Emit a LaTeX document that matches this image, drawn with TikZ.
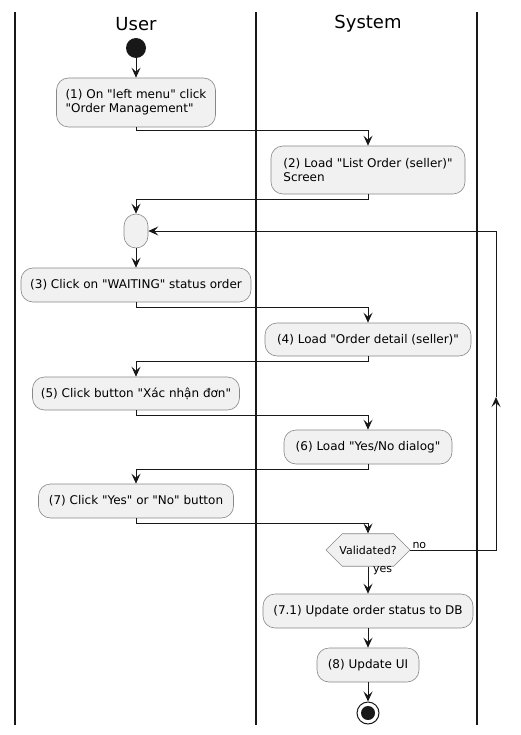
\documentclass[tikz,border=0pt]{standalone}
\usepackage{fontspec}
\setmainfont{DejaVu Sans}[Ligatures=TeXOff]
\usetikzlibrary{arrows.meta,shapes.misc}
\definecolor{boxfill}{HTML}{F1F1F1}
\definecolor{boxline}{HTML}{888888}
\definecolor{ink}{HTML}{181818}
\begin{document}
\begin{tikzpicture}[x=1pt,y=-1pt,
  act/.style={draw=boxline,fill=boxfill,line width=0.6pt,rounded corners=12pt,
    inner sep=0pt,font=\fontsize{12}{14}\selectfont,text=black},
  lane/.style={line width=1.4pt,ink},
  flow/.style={draw=ink,line width=1pt},
  arr/.style={flow,-{Stealth[length=10pt,width=9pt,inset=4pt]}},
  lanehead/.style={font=\fontsize{18}{20}\selectfont},
  lbl/.style={font=\fontsize{11}{12}\selectfont,inner sep=1pt}]
\useasboundingbox (0,0) rectangle (520,735);
% lanes
\draw[lane] (15,12) -- (15,725);
\draw[lane] (256,12) -- (256,725);
\draw[lane] (477,12) -- (477,725);
\node[lanehead] (hu) at (136,24) {User};
\node[lanehead] (hs) at (368,24) {System};
% nodes
\node[circle,fill=ink,minimum size=20pt,inner sep=0pt] (start) at (136,48) {};
\node[act,minimum width=159pt,minimum height=49pt,align=left] (n1) at (136,102.5) {(1) On "left menu" click\\"Order Management"};
\node[act,minimum width=194pt,minimum height=48pt,align=left] (n2) at (368,170) {(2) Load "List Order (seller)"\\Screen};
\node[act,minimum width=24pt,minimum height=34pt] (merge) at (136,231) {};
\node[act,minimum width=230pt,minimum height=34pt] (n3) at (136,285) {(3) Click on "WAITING" status order};
\node[act,minimum width=206pt,minimum height=33pt] (n4) at (368,339.5) {(4) Load "Order detail (seller)"};
\node[act,minimum width=207pt,minimum height=33pt] (n5) at (136,393.5) {(5) Click button "Xác nhận đơn"};
\node[act,minimum width=168pt,minimum height=34pt] (n6) at (368,447) {(6) Load "Yes/No dialog"};
\node[act,minimum width=195pt,minimum height=34pt] (n7) at (136,501) {(7) Click "Yes" or "No" button};
\node[draw=boxline,fill=boxfill,line width=0.6pt,chamfered rectangle,chamfered rectangle xsep=12pt,chamfered rectangle ysep=12pt,
  minimum width=84pt,minimum height=24pt,inner sep=0pt,font=\fontsize{11}{12}\selectfont] (dec) at (368,550) {Validated?};
\node[act,minimum width=210pt,minimum height=34pt] (n71) at (368,611) {(7.1) Update order status to DB};
\node[act,minimum width=102pt,minimum height=34pt] (n8) at (368,665) {(8) Update UI};
\node[circle,draw=ink,line width=1pt,fill=white,minimum size=22pt,inner sep=0pt] (stop) at (368,713) {};
\node[circle,fill=ink,minimum size=14pt,inner sep=0pt] (stopin) at (stop.center) {};
% connectors
\draw[arr] (start) -- (n1.north);
\draw[arr] (n1.south) -- ++(0,3) -| (n2.north);
\draw[arr] (n2.south) -- ++(0,5) -| (merge.north);
\draw[arr] (merge.south) -- (n3.north);
\draw[arr] (n3.south) -- ++(0,5) -| (n4.north);
\draw[arr] (n4.south) -- ++(0,5) -| (n5.north);
\draw[arr] (n5.south) -- ++(0,5) -| (n6.north);
\draw[arr] (n6.south) -- ++(0,5) -| (n7.north);
\draw[arr] (n7.south) -- ++(0,5) -| (dec.north);
\draw[arr] (dec.south) -- (n71.north);
\draw[arr] (n71.south) -- (n8.north);
\draw[arr] (n8.south) -- (stop.north);
% loop back
\coordinate (loopx) at (496,0);
\coordinate (loopmid) at (496,397);
\draw[arr] (dec.east) -- (dec.east -| loopx) -- (loopmid);
\draw[arr] (loopmid) -- (merge.east -| loopx) -- (merge.east);
\node[lbl,anchor=south west] (lno) at ([xshift=1pt]dec.east) {no};
\node[lbl,anchor=north west] (lyes) at ([xshift=4pt,yshift=1pt]dec.south) {yes};
\end{tikzpicture}
\end{document}
